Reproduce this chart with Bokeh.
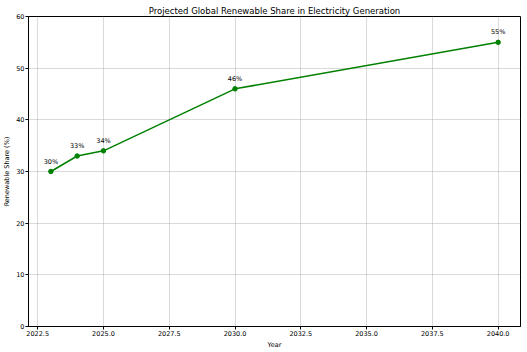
from bokeh.plotting import figure
from bokeh.models import ColumnDataSource, FixedTicker, Range1d, LabelSet
from bokeh.core.properties import value
from bokeh.embed import file_html
from bokeh.resources import INLINE

years = [2023, 2024, 2025, 2030, 2040]
share = [30, 33, 34, 46, 55]
labels = ["30%", "33%", "34%", "46%", "55%"]
x_ticks = [2022.5, 2025.0, 2027.5, 2030.0, 2032.5, 2035.0, 2037.5, 2040.0]
y_ticks = [0, 10, 20, 30, 40, 50, 60]

FONT = "DejaVu Sans"

src = ColumnDataSource(dict(x=years, y=share, label=labels))

p = figure(width=527, height=352, output_backend="svg", toolbar_location=None,
           x_range=Range1d(2022.15, 2040.85), y_range=Range1d(0, 60),
           title="Projected Global Renewable Share in Electricity Generation",
           min_border_left=20, min_border_right=7, min_border_top=16, min_border_bottom=26)

p.title.align = "center"
p.title.text_font = FONT
p.title.text_font_size = "8.5px"
p.title.text_font_style = "normal"
p.title.text_color = "black"
p.title.standoff = 2

p.line("x", "y", source=src, line_color="green", line_width=1.5)
p.scatter("x", "y", source=src, size=4.5, fill_color="green", line_color="green")

lbl = LabelSet(x="x", y="y", text="label", source=src, x_offset=0, y_offset=6,
               text_align="center", text_baseline="bottom",
               text_font=value(FONT), text_font_size="6.5px", text_color="black")
p.add_layout(lbl)

p.xaxis.ticker = FixedTicker(ticks=x_ticks)
p.yaxis.ticker = FixedTicker(ticks=y_ticks)
p.xaxis.major_label_overrides = {t: f"{t:.1f}" for t in x_ticks}
p.xaxis.axis_label = "Year"
p.yaxis.axis_label = "Renewable Share (%)"

for ax in (p.xaxis, p.yaxis):
    ax.axis_label_text_font = FONT
    ax.axis_label_text_font_size = "6.5px"
    ax.axis_label_text_font_style = "normal"
    ax.axis_label_text_color = "black"
    ax.axis_label_standoff = 2
    ax.major_label_text_font = FONT
    ax.major_label_text_font_size = "6.5px"
    ax.major_label_text_color = "black"
    ax.major_label_standoff = 1
    ax.minor_tick_line_color = None
    ax.major_tick_in = 0
    ax.major_tick_out = 3
    ax.axis_line_color = "black"
    ax.major_tick_line_color = "black"

p.grid.grid_line_color = "#b0b0b0"
p.grid.grid_line_alpha = 0.6
p.grid.grid_line_width = 0.8
p.outline_line_color = "black"
p.outline_line_alpha = 1.0

open("out.html", "w").write(file_html(p, INLINE))
